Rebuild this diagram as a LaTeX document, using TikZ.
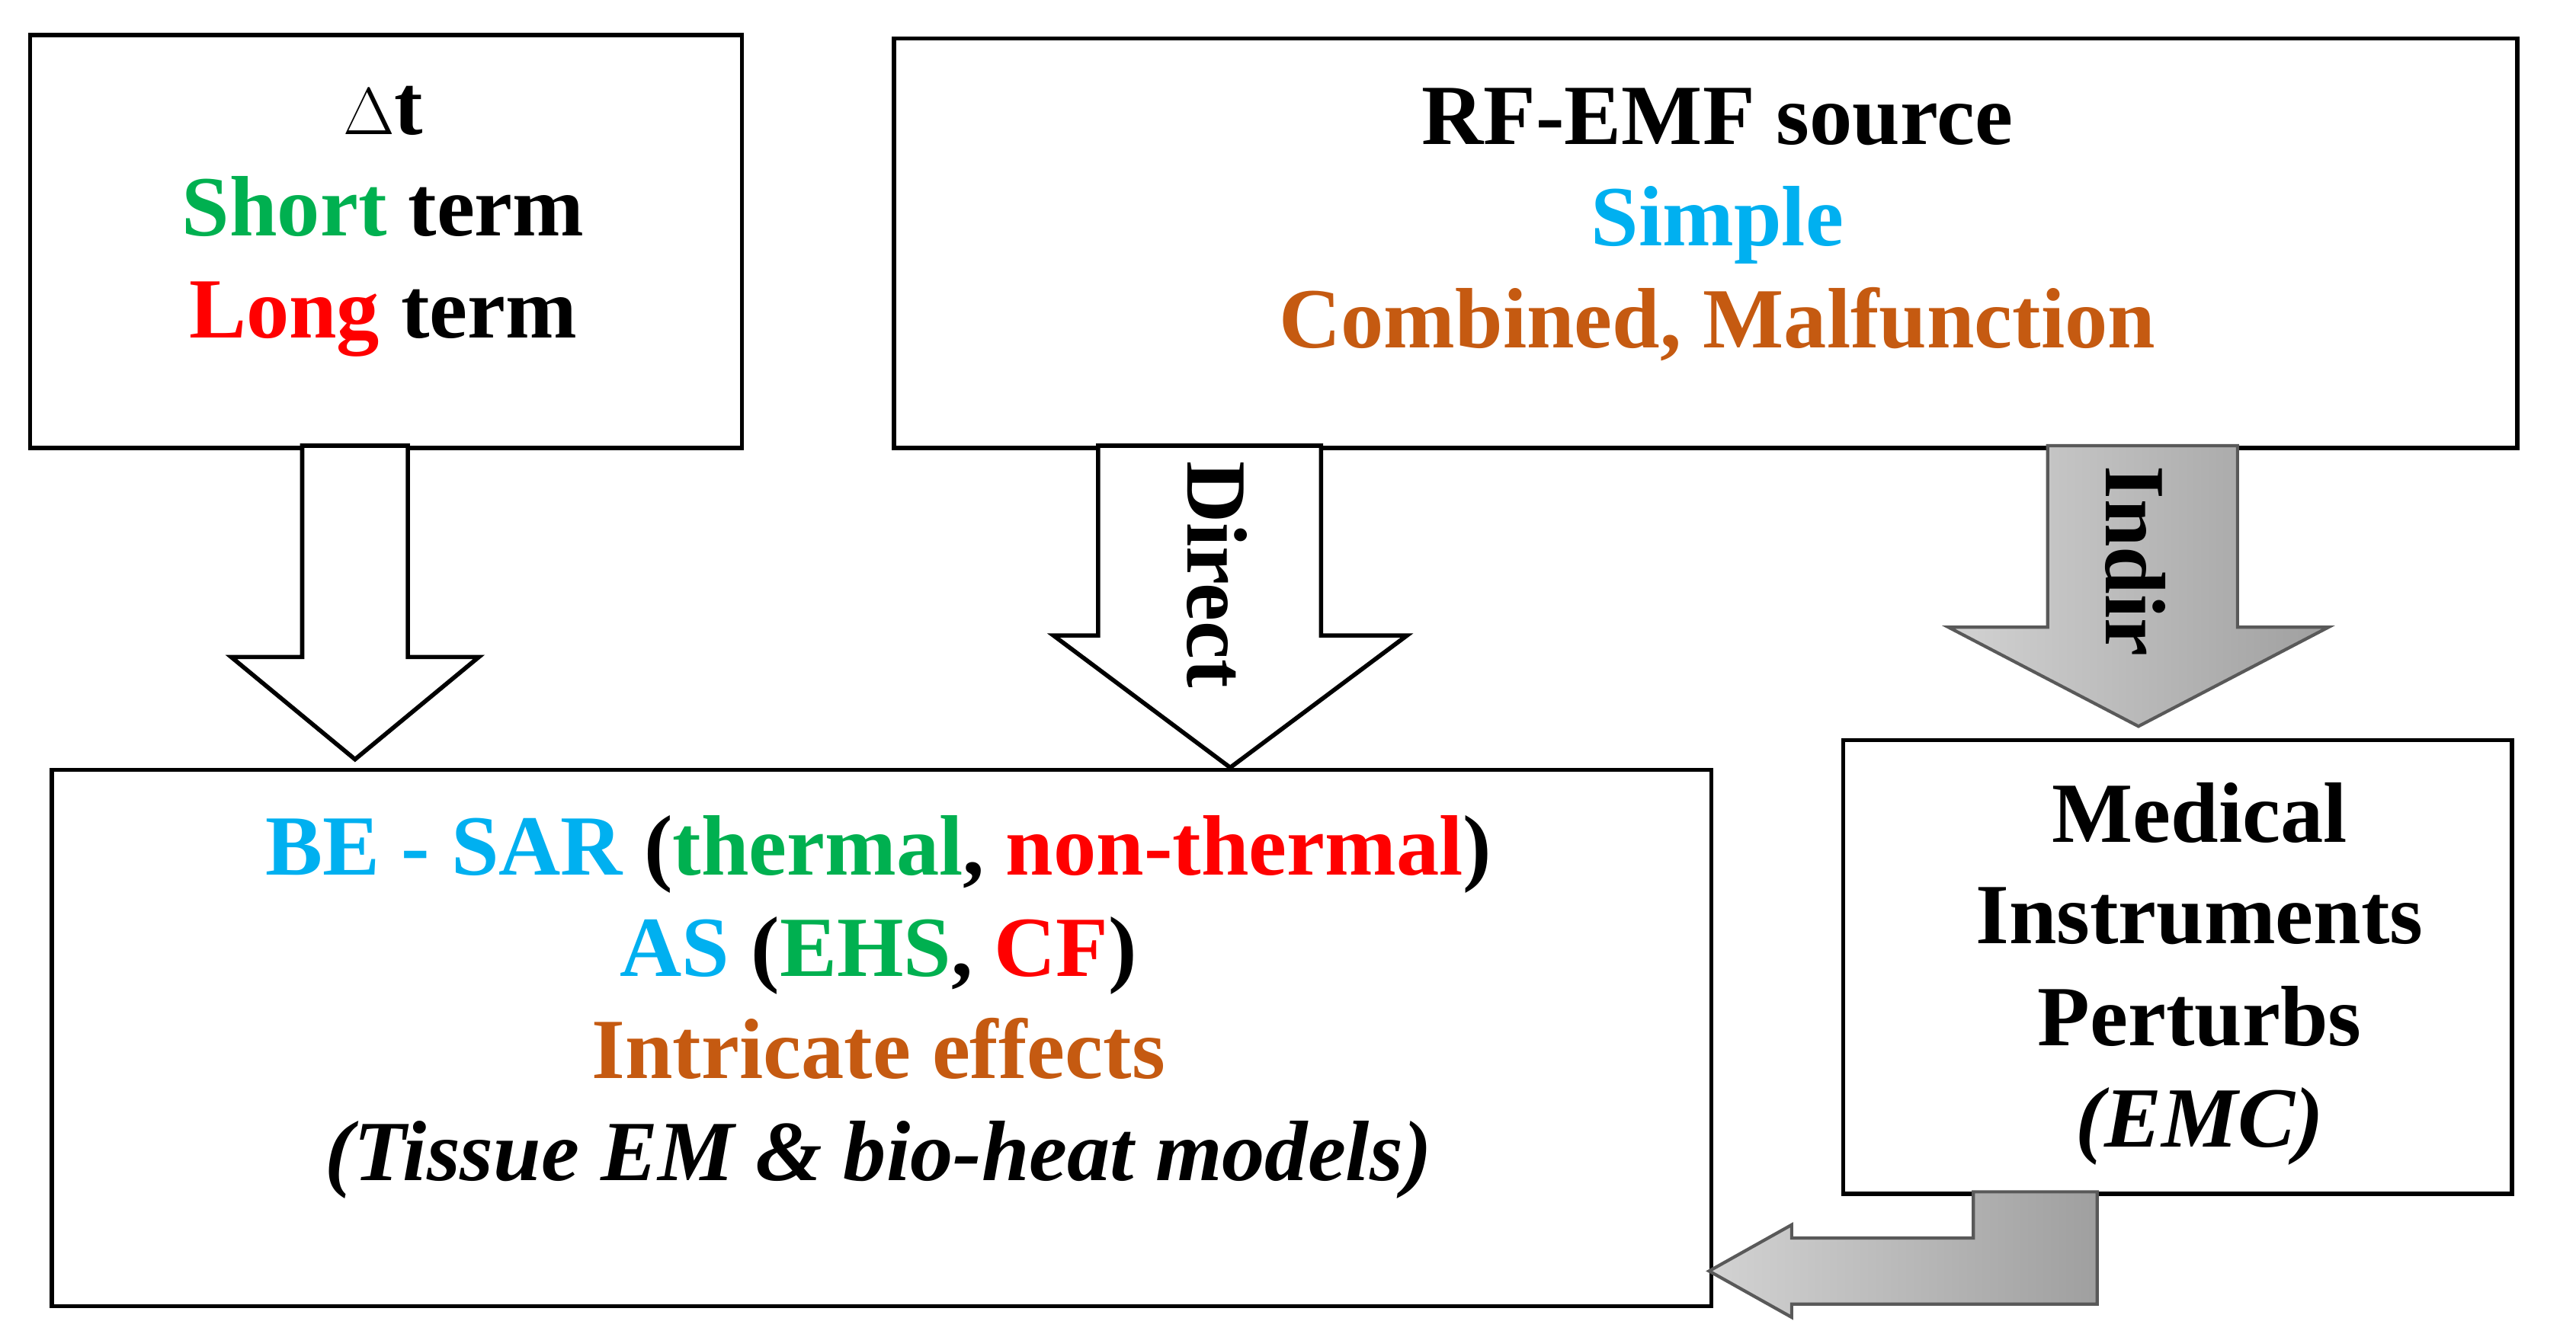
\documentclass[tikz,border=0pt]{standalone}
\usepackage{fontspec}
\setmainfont{Liberation Serif}
\usetikzlibrary{positioning}
\definecolor{cgreen}{HTML}{00B050}
\definecolor{cred}{HTML}{FF0000}
\definecolor{cblue}{HTML}{00B0F0}
\definecolor{corange}{HTML}{C55A11}
\tikzset{
  box/.style={draw, line width=1.6pt, anchor=north west, inner sep=0pt},
  txt/.style={font=\fontsize{32}{38}\selectfont\bfseries, align=center},
  blockarrow/.style={draw, line width=1.6pt, fill=white, line join=miter},
  greyarrow/.style={draw=gray!70!black, line width=1.2pt, left color=gray!35, right color=gray!75, line join=miter}
}
\begin{document}
\begin{tikzpicture}[x=0.021667cm,y=-0.021667cm]
  \useasboundingbox (0,0) rectangle (1560,808);
  % boxes
  \node[box, minimum width=431*0.021667cm, minimum height=250*0.021667cm] (dt) at (17,20) {};
  \node[box, minimum width=983*0.021667cm, minimum height=248*0.021667cm] (src) at (540,22) {};
  \node[box, minimum width=1005*0.021667cm, minimum height=325*0.021667cm] (be) at (30,465) {};
  \node[box, minimum width=405*0.021667cm, minimum height=275*0.021667cm] (med) at (1115,447) {};
  % texts
  \node[txt] (dtlbl) at (232,134) {$\Delta$t\\ \textcolor{cgreen}{Short} term\\ \textcolor{cred}{Long} term};
  \node[txt] (srclbl) at (1040,136) {RF-EMF source\\ \textcolor{cblue}{Simple}\\ \textcolor{corange}{Combined, Malfunction}};
  \node[txt] (belbl) at (532,610) {\textcolor{cblue}{BE - SAR} (\textcolor{cgreen}{thermal}, \textcolor{cred}{non-thermal})\\
    \textcolor{cblue}{AS} (\textcolor{cgreen}{EHS}, \textcolor{cred}{CF})\\
    \textcolor{corange}{Intricate effects}\\ \textit{(Tissue EM \& bio-heat models)}};
  \node[txt] (medlbl) at (1332,590) {Medical\\ Instruments\\ Perturbs\\ \textit{(EMC)}};
  % white block arrows
  \draw[blockarrow] (183,270) -- (247,270) -- (247,398) -- (290,398) -- (215,460)
    -- (140,398) -- (183,398) -- cycle;
  \draw[blockarrow] (665,270) -- (800,270) -- (800,385) -- (852,385) -- (745,465)
    -- (638,385) -- (665,385) -- cycle;
  \node[txt, rotate=-90] (direct) at (737,348) {Direct};
  % grey arrows
  \draw[greyarrow] (1240,270) -- (1355,270) -- (1355,380) -- (1410,380) -- (1295,440)
    -- (1180,380) -- (1240,380) -- cycle;
  \node[txt, rotate=-90] (indir) at (1293,340) {Indir};
  \draw[greyarrow] (1195,722) -- (1270,722) -- (1270,790) -- (1085,790) -- (1085,798)
    -- (1035,770) -- (1085,742) -- (1085,750) -- (1195,750) -- cycle;
\end{tikzpicture}
\end{document}
